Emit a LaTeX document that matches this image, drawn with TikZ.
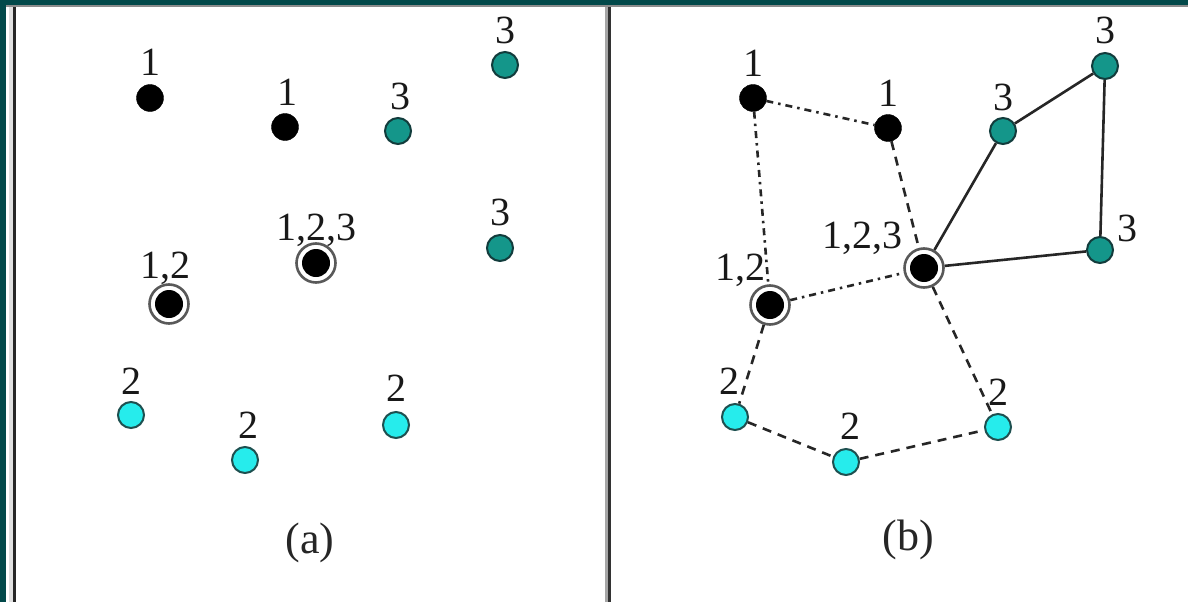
\documentclass[tikz,border=0pt]{standalone}
\usepackage{fontspec}
\setmainfont{Liberation Serif}
\begin{document}
\begin{tikzpicture}[x=1pt,y=-1pt,
  lab/.style={inner sep=0pt,text=black!90,font=\fontsize{40}{40}\selectfont},
  captext/.style={inner sep=0pt,text=black!85,font=\fontsize{44}{44}\selectfont},
  blk/.style={circle,fill=black,draw=black,minimum size=27pt,inner sep=0pt},
  tl/.style={circle,fill=tealdot,draw=tealedge,line width=2pt,minimum size=26pt,inner sep=0pt},
  cy/.style={circle,fill=cyandot,draw=cyanedge,line width=2pt,minimum size=26pt,inner sep=0pt},
  dbl/.style={circle,draw=black!65,line width=2.6pt,fill=white,minimum size=39pt,inner sep=0pt,
    path picture={\fill[black] (path picture bounding box.center) circle (14pt);}},
  conn/.style={draw=black!85,line width=2.6pt},
  dd/.style={conn,dash pattern=on 7pt off 5pt on 2.5pt off 5pt},
  ds/.style={conn,dash pattern=on 9pt off 7pt},
]
\definecolor{frame}{HTML}{02494A}
\definecolor{tealdot}{HTML}{14968A}
\definecolor{tealedge}{HTML}{123C3C}
\definecolor{cyandot}{HTML}{26ECEC}
\definecolor{cyanedge}{HTML}{1E5050}
\useasboundingbox (0,0) rectangle (1188,602);
\fill[white] (0,0) rectangle (1188,602);
% frame
\fill[frame] (0,0) rectangle (1188,5);
\fill[black!45] (0,5) rectangle (1188,7);
\fill[frame] (0,0) rectangle (6,602);
\fill[black!12] (9,7) rectangle (13,602);
\fill[black!85] (13,7) rectangle (16,602);
\fill[black!35] (605,7) rectangle (608,602);
\fill[black!80] (608,7) rectangle (611,602);

% ---- panel (a)
\node[blk] (a1) at (150,98) {};
\node[lab] (la1) at (150,62) {1};
\node[blk] (a2) at (285,127) {};
\node[lab] (la2) at (287,92) {1};
\node[tl] (a3) at (398,131) {};
\node[lab] (la3) at (400,96) {3};
\node[tl] (a4) at (505,65) {};
\node[lab] (la4) at (505,30) {3};
\node[dbl] (a5) at (316,263) {};
\node[lab] (la5) at (316,230) {1,2,3};
\node[tl] (a6) at (500,248) {};
\node[lab] (la6) at (500,212) {3};
\node[dbl] (a7) at (169,304) {};
\node[lab] (la7) at (165,268) {1,2};
\node[cy] (a8) at (131,415) {};
\node[lab] (la8) at (131,381) {2};
\node[cy] (a9) at (245,460) {};
\node[lab] (la9) at (248,425) {2};
\node[cy] (a10) at (396,425) {};
\node[lab] (la10) at (396,388) {2};
\node[captext] (capa) at (310,543) {(a)};

% ---- panel (b)
\node[blk] (b1) at (753,98) {};
\node[lab] (lb1) at (753,63) {1};
\node[blk] (b2) at (888,128) {};
\node[lab] (lb2) at (888,93) {1};
\node[tl] (b3) at (1003,131) {};
\node[lab] (lb3) at (1003,97) {3};
\node[tl] (b4) at (1105,66) {};
\node[lab] (lb4) at (1105,30) {3};
\node[dbl] (b5) at (924,268) {};
\node[lab] (lb5) at (862,238) {1,2,3};
\node[tl] (b6) at (1100,250) {};
\node[lab] (lb6) at (1127,228) {3};
\node[dbl] (b7) at (770,305) {};
\node[lab] (lb7) at (740,270) {1,2};
\node[cy] (b8) at (735,417) {};
\node[lab] (lb8) at (729,381) {2};
\node[cy] (b9) at (846,462) {};
\node[lab] (lb9) at (850,426) {2};
\node[cy] (b10) at (998,427) {};
\node[lab] (lb10) at (998,392) {2};
\node[captext] (capb) at (908,540) {(b)};

% connectors
\path[dd] (b1) -- (b2);
\path[dd] (b1) -- (b7);
\path[ds] (b2) -- (b5);
\path[dd] (b7) -- (b5);
\path[conn] (b5) -- (b3);
\path[conn] (b3) -- (b4);
\path[conn] (b4) -- (b6);
\path[conn] (b5) -- (b6);
\path[ds] (b7) -- (b8);
\path[ds] (b8) -- (b9);
\path[ds] (b9) -- (b10);
\path[ds] (b5) -- (b10);
\end{tikzpicture}
\end{document}
